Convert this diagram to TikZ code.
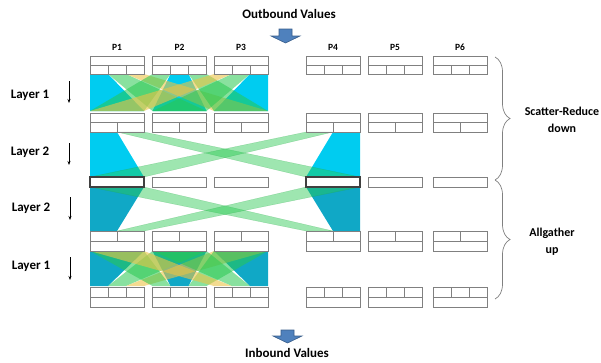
\documentclass[tikz,border=0pt]{standalone}
\usepackage{fontspec}
\setmainfont{Carlito}
\usetikzlibrary{decorations.pathreplacing,arrows.meta}
\definecolor{cyanA}{RGB}{0,204,240}
\definecolor{tealB}{RGB}{16,168,198}
\definecolor{grn}{RGB}{40,200,80}
\definecolor{ylw}{RGB}{235,195,70}
\definecolor{boxgray}{RGB}{128,128,128}
\definecolor{arrowblue}{RGB}{79,129,189}
\definecolor{arrowedge}{RGB}{56,93,138}
\begin{document}
\begin{tikzpicture}[x=1pt,y=-1pt,
  cellbox/.style={draw=boxgray,line width=0.7pt},
  thickbox/.style={draw=black!75,line width=1.2pt},
  lbl/.style={font=\bfseries\fontsize{13}{16}\selectfont,inner sep=0pt},
  sidelbl/.style={font=\bfseries\fontsize{12}{17}\selectfont,align=center,inner sep=0pt},
  plbl/.style={font=\bfseries\fontsize{9.5}{11}\selectfont,inner sep=0pt},
  grnfill/.style={fill=grn,fill opacity=0.45,draw=grn!80!black,draw opacity=0.35,line width=0.3pt},
  layerarrow/.style={-{Stealth[length=4pt,width=3pt]},line width=0.8pt},
  bigarrow/.style={fill=arrowblue,draw=arrowedge,line width=0.6pt},
  bracestyle/.style={draw=boxgray,line width=0.7pt,decorate,decoration={brace,amplitude=15pt}}
]
\useasboundingbox (0,0) rectangle (601,362);

% ---------- Layer 1 (upper) : reduce-scatter inside P1..P3 ----------
\foreach \i/\Li in {1/90,2/152.5,3/214}{
  \pgfmathsetmacro\xa{\Li+(\i-1)*18}\pgfmathsetmacro\xb{\Li+\i*18}\pgfmathsetmacro\xr{\Li+54}
  \fill[cyanA] (\xa,74) -- (\xb,74) -- (\xr,111) -- (\Li,111) -- cycle;
}
\foreach \i/\Li in {1/90,2/152.5,3/214}{
  \foreach \j/\Lj in {1/90,2/152.5,3/214}{
    \pgfmathtruncatemacro\dd{abs(\i-\j)}
    \pgfmathsetmacro\xa{\Li+(\j-1)*18}\pgfmathsetmacro\xb{\Li+\j*18}\pgfmathsetmacro\xr{\Lj+54}
    \ifnum\dd=1
      \fill[grn,fill opacity=0.55] (\xa,74) -- (\xb,74) -- (\xr,111) -- (\Lj,111) -- cycle;
    \fi
    \ifnum\dd=2
      \fill[ylw,fill opacity=0.6] (\xa,74) -- (\xb,74) -- (\xr,111) -- (\Lj,111) -- cycle;
    \fi
  }
}

% ---------- Layer 1 (lower) : allgather inside P1..P3 ----------
\foreach \i/\Li in {1/90,2/152.5,3/214}{
  \pgfmathsetmacro\xa{\Li+(\i-1)*18}\pgfmathsetmacro\xb{\Li+\i*18}\pgfmathsetmacro\xr{\Li+54}
  \fill[tealB] (\Li,251) -- (\xr,251) -- (\xb,286) -- (\xa,286) -- cycle;
}
\foreach \i/\Li in {1/90,2/152.5,3/214}{
  \foreach \j/\Lj in {1/90,2/152.5,3/214}{
    \pgfmathtruncatemacro\dd{abs(\i-\j)}
    \pgfmathsetmacro\xa{\Li+(\j-1)*18}\pgfmathsetmacro\xb{\Li+\j*18}\pgfmathsetmacro\xr{\Lj+54}
    \ifnum\dd=1
      \fill[grn,fill opacity=0.55] (\Lj,251) -- (\xr,251) -- (\xb,286) -- (\xa,286) -- cycle;
    \fi
    \ifnum\dd=2
      \fill[ylw,fill opacity=0.6] (\Lj,251) -- (\xr,251) -- (\xb,286) -- (\xa,286) -- cycle;
    \fi
  }
}

% ---------- Layer 2 (upper) ----------
\fill[cyanA] (90,132) -- (117,132) -- (144,177) -- (90,177) -- cycle;
\fill[cyanA] (333,132) -- (360,132) -- (360,177) -- (306,177) -- cycle;
\path[grnfill] (117,132) -- (144,132) -- (360,177) -- (306,177) -- cycle;
\path[grnfill] (306,132) -- (333,132) -- (144,177) -- (90,177) -- cycle;

% ---------- Layer 2 (lower) ----------
\fill[tealB] (90,187) -- (144,187) -- (117,231) -- (90,231) -- cycle;
\fill[tealB] (306,187) -- (360,187) -- (360,231) -- (333,231) -- cycle;
\path[grnfill] (90,187) -- (144,187) -- (333,231) -- (306,231) -- cycle;
\path[grnfill] (306,187) -- (360,187) -- (144,231) -- (117,231) -- cycle;

% ---------- Buffers ----------
\foreach \L in {90,152.5,214,306,368,433}{
  \pgfmathsetmacro\a{\L+18}\pgfmathsetmacro\b{\L+36}\pgfmathsetmacro\h{\L+27}\pgfmathsetmacro\R{\L+54}
  \draw[cellbox] (\L,56) rectangle (\R,74) (\L,65) -- (\R,65) (\a,65) -- (\a,74) (\b,65) -- (\b,74);
  \draw[cellbox] (\L,113) rectangle (\R,132) (\L,122.5) -- (\R,122.5) (\h,122.5) -- (\h,132);
  \draw[cellbox] (\L,177) rectangle (\R,187);
  \draw[cellbox] (\L,231) rectangle (\R,251) (\L,241) -- (\R,241) (\h,231) -- (\h,241);
  \draw[cellbox] (\L,287) rectangle (\R,307) (\L,297) -- (\R,297) (\a,287) -- (\a,297) (\b,287) -- (\b,297);
}
\draw[thickbox] (90,177) rectangle (144,187);
\draw[thickbox] (306,177) rectangle (360,187);

% ---------- Process labels ----------
\node[plbl] (p1) at (117,47) {P1};
\node[plbl] (p2) at (179.5,47) {P2};
\node[plbl] (p3) at (241,47) {P3};
\node[plbl] (p4) at (333,47) {P4};
\node[plbl] (p5) at (395,47) {P5};
\node[plbl] (p6) at (460,47) {P6};

% ---------- Layer labels ----------
\node[lbl] (l1a) at (30,95) {Layer 1};
\node[lbl] (l2a) at (30,152) {Layer 2};
\node[lbl] (l2b) at (31,208) {Layer 2};
\node[lbl] (l1b) at (31,266) {Layer 1};
\coordinate (a1s) at (69,81);  \coordinate (a1e) at (69,103);
\coordinate (a2s) at (69,143); \coordinate (a2e) at (69,165);
\coordinate (a3s) at (70,197); \coordinate (a3e) at (70,220);
\coordinate (a4s) at (70,257); \coordinate (a4e) at (70,280);
\draw[layerarrow] (a1s) -- (a1e);
\draw[layerarrow] (a2s) -- (a2e);
\draw[layerarrow] (a3s) -- (a3e);
\draw[layerarrow] (a4s) -- (a4e);

% ---------- Top / bottom ----------
\node[lbl] (outb) at (289,14) {Outbound Values};
\draw[bigarrow] (279,29) -- (292,29) -- (292,36) -- (300,36) -- (285.5,43) -- (271,36) -- (279,36) -- cycle;
\node[lbl] (inb) at (287,353) {Inbound Values};
\draw[bigarrow] (281,330) -- (294,330) -- (294,336) -- (302,336) -- (287.5,343) -- (273,336) -- (281,336) -- cycle;

% ---------- Braces ----------
\coordinate (b1t) at (495,57);  \coordinate (b1b) at (495,180);
\coordinate (b2t) at (495,180); \coordinate (b2b) at (495,299);
\draw[bracestyle] (b1t) -- (b1b);
\draw[bracestyle] (b2t) -- (b2b);
\node[sidelbl] (sr) at (562,120) {Scatter-Reduce\\down};
\node[sidelbl] (ag) at (552,242) {Allgather\\up};
\end{tikzpicture}
\end{document}
